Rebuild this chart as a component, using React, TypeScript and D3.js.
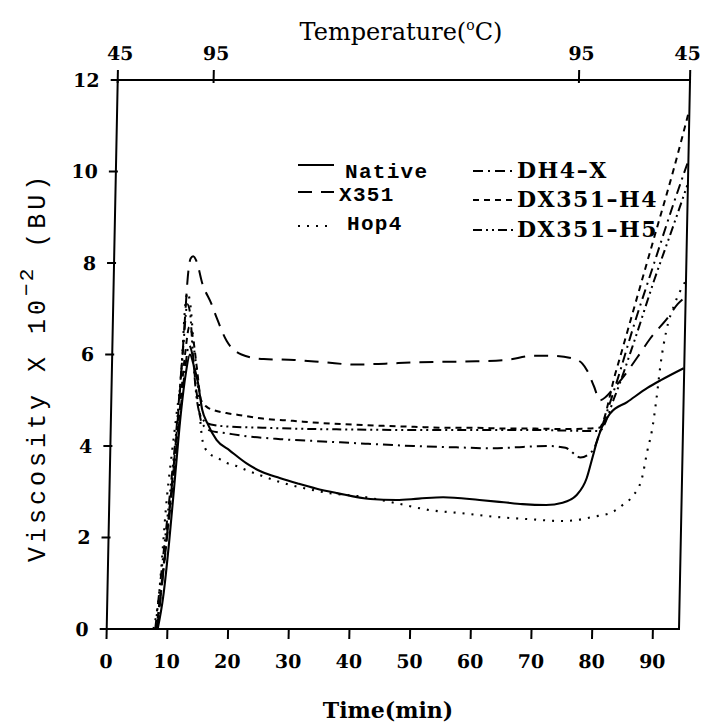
import React from "react";
import * as d3 from "d3";

// ---- data (time in min, viscosity x 10^-2 BU) ----
const timeTicks = [0, 10, 20, 30, 40, 50, 60, 70, 80, 90];
const viscTicks = [0, 2, 4, 6, 8, 10, 12];
const tempTickTimes = [0, 15.8, 76.0, 94.3];
const tempTickLabels = ["45", "95", "95", "45"];

const seriesNames = ["Native", "X351", "Hop4", "DH4\u2013X", "DX351\u2013H4", "DX351\u2013H5"];

const nativeData: [number, number][] = [
  [8.4, 0], [9.2, 0.7], [10.0, 1.9], [10.8, 3.4], [11.5, 4.7], [12.2, 5.6], [12.8, 6.0], [13.5, 5.75],
  [14.2, 5.4], [15.0, 4.8], [15.9, 4.5], [17.5, 4.13], [19.7, 3.9], [22.5, 3.62], [25.1, 3.43],
  [28, 3.3], [31, 3.18], [34, 3.07], [37.5, 2.97], [43, 2.84], [47.3, 2.82], [51, 2.85], [55, 2.88],
  [61, 2.82], [65, 2.77], [68.1, 2.73], [72, 2.71], [74.7, 2.76], [77, 2.93], [78.6, 3.3], [79.5, 3.76],
  [80.1, 4.07], [80.9, 4.4], [82.3, 4.72], [85, 4.96], [88.3, 5.27], [90.5, 5.44], [94.2, 5.7],
];

const x351Data: [number, number][] = [
  [8.3, 0], [9.3, 1.5], [10.3, 3.2], [11.2, 5.0], [11.8, 6.6], [12.2, 7.7], [12.6, 8.1], [13.0, 8.15],
  [13.7, 8.0], [14.5, 7.6], [16.2, 7.1], [17.1, 6.8], [18.8, 6.3], [21.3, 6.0], [25, 5.9], [30, 5.88],
  [35, 5.83], [40, 5.78], [45, 5.8], [50, 5.83], [55, 5.84], [60, 5.85], [65, 5.88], [69.3, 5.97],
  [72.6, 5.97], [76.2, 5.9], [77.5, 5.8], [78.3, 5.65], [79.5, 5.3], [80.5, 5.0], [83, 5.3],
  [86.6, 5.95], [88.6, 6.35], [91.4, 6.8], [93, 7.1], [94.2, 7.25],
];

const hop4Data: [number, number][] = [
  [7.7, 0], [8.4, 0.6], [9.5, 2.9], [10.2, 3.9], [10.8, 4.7], [11.5, 5.8], [11.8, 6.9], [12.2, 7.35],
  [12.7, 7.1], [13.4, 6.2], [14.2, 5.4], [14.7, 4.6], [15.2, 4.1], [16.2, 3.85], [17.7, 3.74],
  [19.2, 3.63], [20.7, 3.57], [22, 3.5], [25, 3.35], [28.6, 3.19], [32, 3.08], [36.3, 2.97],
  [41.8, 2.89], [47.3, 2.75], [52.8, 2.6], [58.2, 2.53], [63.8, 2.45], [69.3, 2.4], [74.7, 2.36],
  [77, 2.38], [79.7, 2.45], [83, 2.56], [84.6, 2.71], [86.2, 2.9], [87.7, 3.3], [88.5, 3.9],
  [89.2, 4.35], [89.8, 5.0], [90.4, 5.8], [91.2, 6.5], [92.5, 7.1], [94.2, 7.6],
];

const dh4xData: [number, number][] = [
  [8.3, 0], [9.3, 1.5], [10.3, 3.0], [11.2, 4.4], [12.0, 5.6], [12.6, 6.2], [13.2, 6.0], [14.0, 5.2],
  [15.0, 4.5], [16.5, 4.33], [19, 4.28], [22, 4.22], [28, 4.15], [35, 4.1], [42, 4.05], [50, 4.0],
  [57, 3.97], [63, 3.95], [68, 3.98], [72, 4.0], [75, 3.96], [77.5, 3.75], [79.5, 3.9], [80.6, 4.3],
  [83, 5.3], [86, 6.7], [89, 8.0], [92, 9.3], [94.2, 10.2],
];

const dx351h4Data: [number, number][] = [
  [8.2, 0], [9.3, 1.6], [10.3, 3.2], [11.2, 4.6], [12.0, 6.0], [12.6, 6.6], [13.2, 6.4], [14.0, 5.7],
  [14.8, 5.0], [15.8, 4.85], [17, 4.78], [19, 4.72], [21, 4.68], [25, 4.6], [30, 4.55], [35, 4.5],
  [40, 4.47], [45, 4.44], [50, 4.42], [55, 4.4], [60, 4.4], [65, 4.38], [70, 4.38], [75, 4.37],
  [78, 4.38], [80.5, 4.4], [83, 5.6], [86, 7.1], [89, 8.6], [92, 10.1], [94.2, 11.3],
];

const dx351h5Data: [number, number][] = [
  [8.0, 0], [9.0, 1.5], [10.0, 3.0], [10.9, 4.5], [11.6, 6.0], [12.2, 7.1], [12.7, 6.9], [13.3, 6.0],
  [14.0, 5.1], [15.0, 4.6], [16.5, 4.47], [20, 4.42], [25, 4.4], [30, 4.38], [40, 4.36], [50, 4.35],
  [60, 4.35], [70, 4.35], [78, 4.33], [80.5, 4.33], [83, 5.1], [86, 6.3], [89, 7.6], [92, 8.8],
  [94.2, 9.7],
];

const seriesData = [nativeData, x351Data, hop4Data, dh4xData, dx351h4Data, dx351h5Data];

// ---- styles ----
const dashes = ["", "14,9", "2,7", "10,5,2,5", "6,5", "9,4,2,4,2,4"];
const widths = [2.1, 2, 2.1, 2, 2, 2];
const tempLabelShift = [2, 2, 2, -3];

const legendLeft = [
  { i: 0, ly: 165, ty: 178, tx: 345 },
  { i: 1, ly: 192, ty: 201, tx: 339 },
  { i: 2, ly: 226, ty: 230, tx: 347 },
];
const legendRight = [
  { i: 3, ly: 171, ty: 178 },
  { i: 4, ly: 200, ty: 207 },
  { i: 5, ly: 230, ty: 237 },
];

export default function App() {
  const W = 703;
  const H = 727;
  const x = d3.scaleLinear().domain([0, 94.3]).range([106.7, 679]);
  const y = d3.scaleLinear().domain([0, 12]).range([629, 80]);
  const line = d3
    .line<[number, number]>()
    .x((d) => x(d[0]))
    .y((d) => y(d[1]))
    .curve(d3.curveMonotoneX);

  const x0 = x.range()[0];
  const x1 = x.range()[1];
  const yb = y(0);
  const yt = y(12);
  const tickFont = "'DejaVu Serif', serif";
  const monoFont = "'Liberation Mono', 'DejaVu Sans Mono', monospace";

  return (
    <svg
      width={W}
      height={H}
      viewBox={`0 0 ${W} ${H}`}
      style={{ position: "absolute", left: 0, top: 0, background: "#fff" }}
    >
      <rect x={0} y={0} width={W} height={H} fill="#fff" />
      {/* sheared plot group mimicking the scanned figure */}
      <g transform={`translate(0,${yb}) skewX(-1.15) translate(0,${-yb})`}>
        <rect x={x0} y={yt} width={x1 - x0} height={yb - yt} fill="none" stroke="#000" strokeWidth={2} />
        {timeTicks.map((t) => (
          <g key={"bt" + t}>
            <line x1={x(t)} x2={x(t)} y1={yb} y2={yb + 10} stroke="#000" strokeWidth={2} />
            <text x={x(t)} y={yb + 39} textAnchor="middle" fontFamily={tickFont} fontWeight="bold" fontSize={19}>
              {t}
            </text>
          </g>
        ))}
        {viscTicks.map((v) => (
          <g key={"lt" + v}>
            <line x1={x0 - 7} x2={x0 + 2} y1={y(v)} y2={y(v)} stroke="#000" strokeWidth={2} />
            <text x={x0 - 18} y={y(v) + 7} textAnchor="end" fontFamily={tickFont} fontWeight="bold" fontSize={19}>
              {v}
            </text>
          </g>
        ))}
        {tempTickTimes.map((t, k) => (
          <g key={"tt" + k}>
            <line x1={x(t)} x2={x(t)} y1={yt - 10} y2={yt + 3} stroke="#000" strokeWidth={2} />
            <text
              x={x(t) + tempLabelShift[k]}
              y={yt - 20}
              textAnchor="middle"
              fontFamily={tickFont}
              fontWeight="bold"
              fontSize={19}
            >
              {tempTickLabels[k]}
            </text>
          </g>
        ))}
        {seriesData.map((d, k) => (
          <path
            key={"s" + k}
            d={line(d) || ""}
            fill="none"
            stroke="#000"
            strokeWidth={widths[k]}
            strokeDasharray={dashes[k] || undefined}
            strokeLinejoin="round"
          />
        ))}
      </g>

      {/* legend */}
      {legendLeft.map((e) => (
        <g key={"ll" + e.i}>
          <line
            x1={298}
            x2={334}
            y1={e.ly}
            y2={e.ly}
            stroke="#000"
            strokeWidth={widths[e.i]}
            strokeDasharray={dashes[e.i] || undefined}
          />
          <text x={e.tx} y={e.ty} fontFamily={monoFont} fontWeight="bold" fontSize={21} letterSpacing={1.3}>
            {seriesNames[e.i]}
          </text>
        </g>
      ))}
      {legendRight.map((e) => (
        <g key={"lr" + e.i}>
          <line
            x1={473}
            x2={514}
            y1={e.ly}
            y2={e.ly}
            stroke="#000"
            strokeWidth={widths[e.i]}
            strokeDasharray={dashes[e.i] || undefined}
          />
          <text x={517} y={e.ty} fontFamily={tickFont} fontWeight="bold" fontSize={22} letterSpacing={1.5}>
            {seriesNames[e.i]}
          </text>
        </g>
      ))}

      {/* axis titles */}
      <text x={401} y={40} textAnchor="middle" fontFamily={tickFont} fontSize={24}>
        Temperature(
        <tspan fontSize={14} dy={-10}>o</tspan>
        <tspan dy={10}>C)</tspan>
      </text>
      <text x={388} y={718} textAnchor="middle" fontFamily={tickFont} fontSize={22} fontWeight="bold">
        Time(min)
      </text>
      <text transform="translate(45,562) rotate(-90)" x={0} y={0} fontFamily={monoFont} fontSize={25} letterSpacing={4}>
        Viscosity X 10
        <tspan dy={-12} fontSize={21} letterSpacing={2}>{"\u22122"}</tspan>
        <tspan dy={12}>{" (BU)"}</tspan>
      </text>
    </svg>
  );
}
